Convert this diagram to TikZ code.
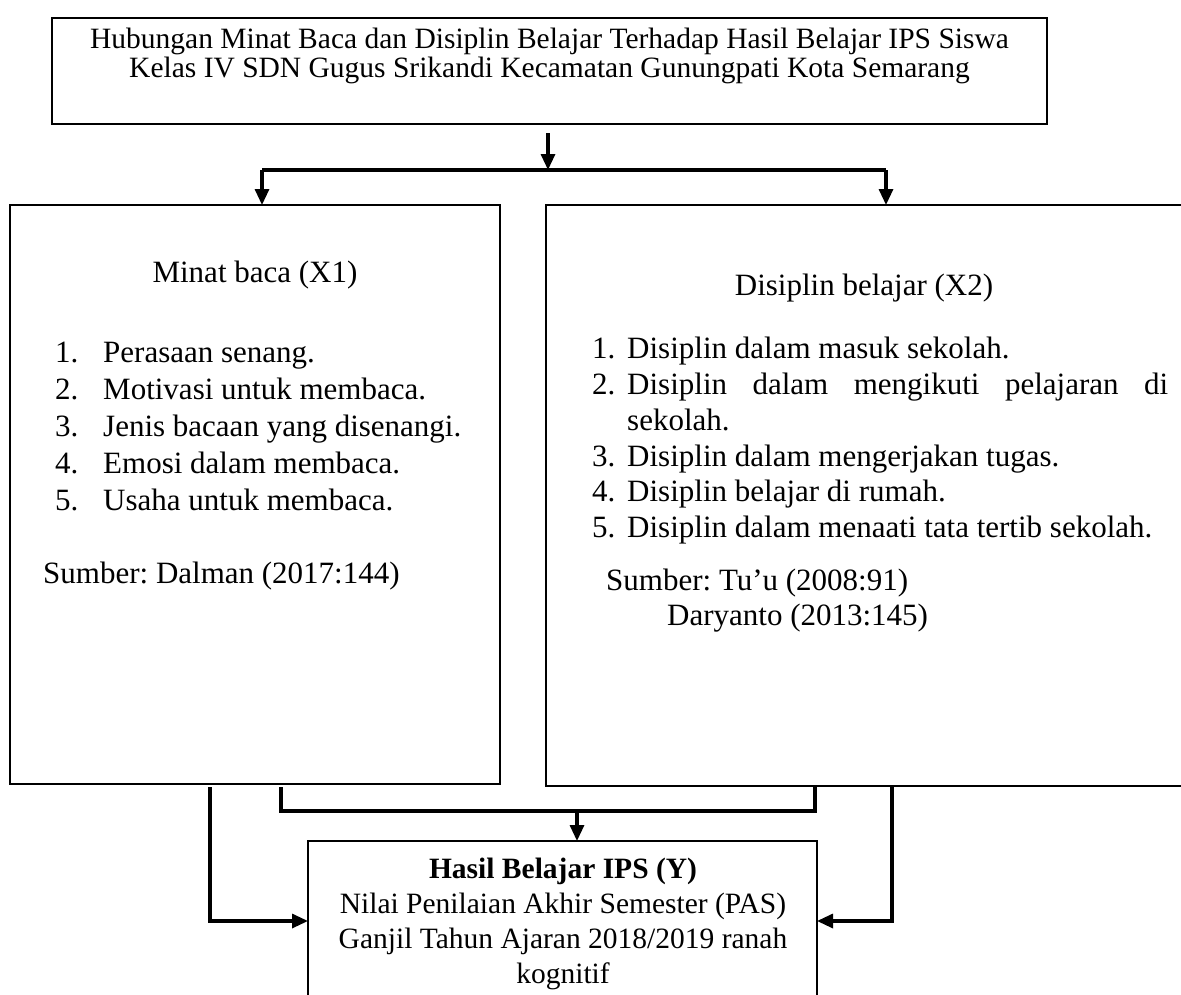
\documentclass[tikz,border=0pt]{standalone}
\usepackage{fontspec}
\setmainfont{Liberation Serif}
\usetikzlibrary{arrows.meta}
\frenchspacing
\begin{document}
\begin{tikzpicture}[x=1pt,y=-1pt,
  box/.style={draw, line width=1.8pt, inner sep=0pt, outer sep=0pt, anchor=north west},
  conn/.style={line width=3.2pt, line join=miter},
  arr/.style={conn, -{Triangle[length=16pt,width=14pt]}},
  tl/.style={inner sep=0pt, anchor=base west, font=\frenchspacing\fontsize{31}{36}\selectfont},
  tc/.style={inner sep=0pt, anchor=base, font=\frenchspacing\fontsize{29.5}{35}\selectfont}]
\useasboundingbox (0,0) rectangle (1181,994);
\clip (0,0) rectangle (1181,994);
% boxes
\node[box, minimum width=995pt, minimum height=106pt] (top) at (52,18) {};
\node[box, minimum width=490pt, minimum height=579pt] (left) at (10,205) {};
\node[box, minimum width=660pt, minimum height=581pt] (right) at (546,205) {};
\node[box, minimum width=509pt, minimum height=160pt] (bottom) at (308,841) {};
% top text
\node[tc] (t1) at (549.5,48) {Hubungan Minat Baca dan Disiplin Belajar Terhadap Hasil Belajar IPS Siswa};
\node[tc] (t2) at (549.5,77) {Kelas IV SDN Gugus Srikandi Kecamatan Gunungpati Kota Semarang};
% left text
\node[tl, anchor=base] (lt) at (255,282) {Minat baca (X1)};
\node[tl] (ln1) at (55,362) {1.};
\node[tl] (li1) at (103,362) {Perasaan senang.};
\node[tl] (ln2) at (55,399) {2.};
\node[tl] (li2) at (103,399) {Motivasi untuk membaca.};
\node[tl] (ln3) at (55,436) {3.};
\node[tl] (li3) at (103,436) {Jenis bacaan yang disenangi.};
\node[tl] (ln4) at (55,473) {4.};
\node[tl] (li4) at (103,473) {Emosi dalam membaca.};
\node[tl] (ln5) at (55,510) {5.};
\node[tl] (li5) at (103,510) {Usaha untuk membaca.};
\node[tl] (ls) at (43,583) {Sumber: Dalman (2017:144)};
% right text
\node[tl, anchor=base] (rt) at (864,295) {Disiplin belajar (X2)};
\node[tl] (rn1) at (592,358) {1.};
\node[tl] (ri1) at (627,358) {Disiplin dalam masuk sekolah.};
\node[tl] (rn2) at (592,394) {2.};
\node[tl] (ri2) at (627,394) {\makebox[541pt][s]{Disiplin dalam mengikuti pelajaran di}};
\node[tl] (ri2b) at (627,430) {sekolah.};
\node[tl] (rn3) at (592,466) {3.};
\node[tl] (ri3) at (627,466) {Disiplin dalam mengerjakan tugas.};
\node[tl] (rn4) at (592,501) {4.};
\node[tl] (ri4) at (627,501) {Disiplin belajar di rumah.};
\node[tl] (rn5) at (592,537) {5.};
\node[tl] (ri5) at (627,537) {Disiplin dalam menaati tata tertib sekolah.};
\node[tl] (rs1) at (606,590) {Sumber: Tu’u (2008:91)};
\node[tl] (rs2) at (667,625) {Daryanto (2013:145)};
% bottom text
\node[tc] (b1) at (563,878) {\bfseries Hasil Belajar IPS (Y)};
\node[tc] (b2) at (563,913) {Nilai Penilaian Akhir Semester (PAS)};
\node[tc] (b3) at (563,948) {Ganjil Tahun Ajaran 2018/2019 ranah};
\node[tc] (b4) at (563,983) {kognitif};
% top connectors
\coordinate (src) at (548,133);
\coordinate (split) at (548,170);
\coordinate (bl) at (262,170);
\coordinate (br) at (886,170);
\draw[arr] (src) -- (split);
\draw[conn] (bl) -- (br);
\draw[arr] (bl) -- (bl |- left.north);
\draw[arr] (br) -- (br |- right.north);
% bottom connectors
\coordinate (lo) at (210,787);
\coordinate (il) at (281,787);
\coordinate (jl) at (281,811);
\coordinate (jm) at (577,811);
\coordinate (jr) at (815,811);
\coordinate (ir) at (815,787);
\coordinate (ro) at (892,787);
\draw[arr] (lo) |- (bottom.west);
\draw[conn] (il) -- (jl) -- (jr) -- (ir);
\draw[arr] (jm) -- (jm |- bottom.north);
\draw[arr] (ro) |- (bottom.east);
\end{tikzpicture}
\end{document}
